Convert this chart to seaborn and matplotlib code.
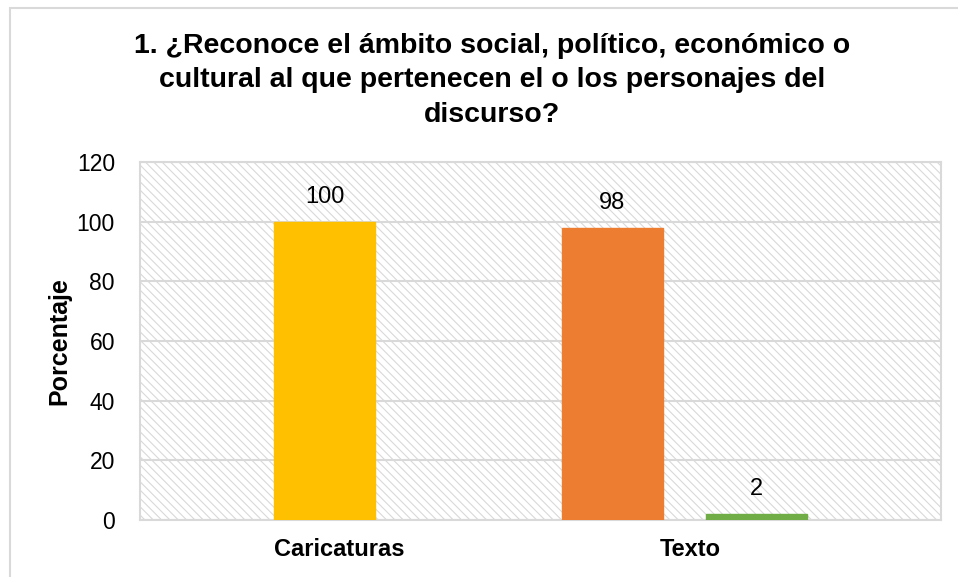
import pandas as pd
import matplotlib
matplotlib.use("Agg")
import matplotlib.pyplot as plt
import seaborn as sns
from matplotlib.patches import Rectangle

# data
categorias = ["Caricaturas", "Texto"]
respuestas = ["Sí", "No"]
valores_si = [100, 98]
valores_no = [0, 2]
colores_barras = ["#FFC000", "#ED7D31", None, "#70AD47"]  # Si-Car, Si-Tex, No-Car, No-Tex

titulo = ("1. ¿Reconoce el ámbito social, político, económico o\n"
          "cultural al que pertenecen el o los personajes del\n"
          "discurso?")

df = pd.DataFrame({
    "categoria": categorias * 2,
    "respuesta": [respuestas[0]] * 2 + [respuestas[1]] * 2,
    "valor": valores_si + valores_no,
})

sns.set_style("white")
plt.rcParams["font.family"] = ["Liberation Sans", "DejaVu Sans"]
plt.rcParams["text.color"] = "black"
plt.rcParams["axes.labelcolor"] = "black"
plt.rcParams["xtick.color"] = "black"
plt.rcParams["ytick.color"] = "black"

fig = plt.figure(figsize=(9.58, 5.77), dpi=100)
ax = fig.add_axes([140 / 958, 1 - 520 / 577, 801 / 958, 358 / 577])

# hatched plot area background
ax.set_facecolor("white")
plt.rcParams["hatch.color"] = "#D9D9D9"
plt.rcParams["hatch.linewidth"] = 0.8
ax.add_patch(Rectangle((0, 0), 1, 1, transform=ax.transAxes, facecolor="white",
                       edgecolor="#D9D9D9", hatch="\\\\\\\\", linewidth=0, zorder=0))

sns.barplot(data=df, x="categoria", y="valor", hue="respuesta", order=categorias,
            hue_order=respuestas, width=1.0, gap=0.3, dodge=True, legend=False,
            ax=ax, zorder=3)

for patch, col in zip(ax.patches[1:], colores_barras):
    if col is None:
        patch.set_visible(False)
    else:
        patch.set_facecolor(col)
        patch.set_edgecolor(col)

for cont, vals in zip(ax.containers, [valores_si, valores_no]):
    labels = [str(v) if v > 0 else "" for v in vals]
    ax.bar_label(cont, labels=labels, padding=10, fontsize=17, color="black")

ax.set_ylim(0, 120)
ax.set_yticks(range(0, 121, 20))
ax.set_xlim(-0.891, 1.891)
ax.set_xticks([-0.2, 1.02], categorias)
ax.yaxis.grid(True, color="#D9D9D9", linewidth=1.5, zorder=1)
ax.set_axisbelow(True)
for s in ax.spines.values():
    s.set_color("#D9D9D9")
    s.set_linewidth(1.5)

ax.tick_params(axis="y", labelsize=16.5, length=0, pad=18, labelcolor="black")
ax.tick_params(axis="x", labelsize=17, length=0, pad=13, labelcolor="black")
for t in ax.get_xticklabels():
    t.set_fontweight("bold")
ax.set_xlabel("")
ax.set_ylabel("Porcentaje", fontsize=18, fontweight="bold", labelpad=4, color="black")

fig.text(492 / 958, 1 - 33 / 577, titulo, ha="center", va="top", fontsize=20.5,
         fontweight="bold", linespacing=1.42, color="black")

# chart border
fig.patches.append(Rectangle((10 / 958, -0.1), 1.2, 1 - 8 / 577 + 0.1,
                             transform=fig.transFigure, fill=False,
                             edgecolor="#D9D9D9", linewidth=1.5))

fig.savefig("out.png", dpi=100)
